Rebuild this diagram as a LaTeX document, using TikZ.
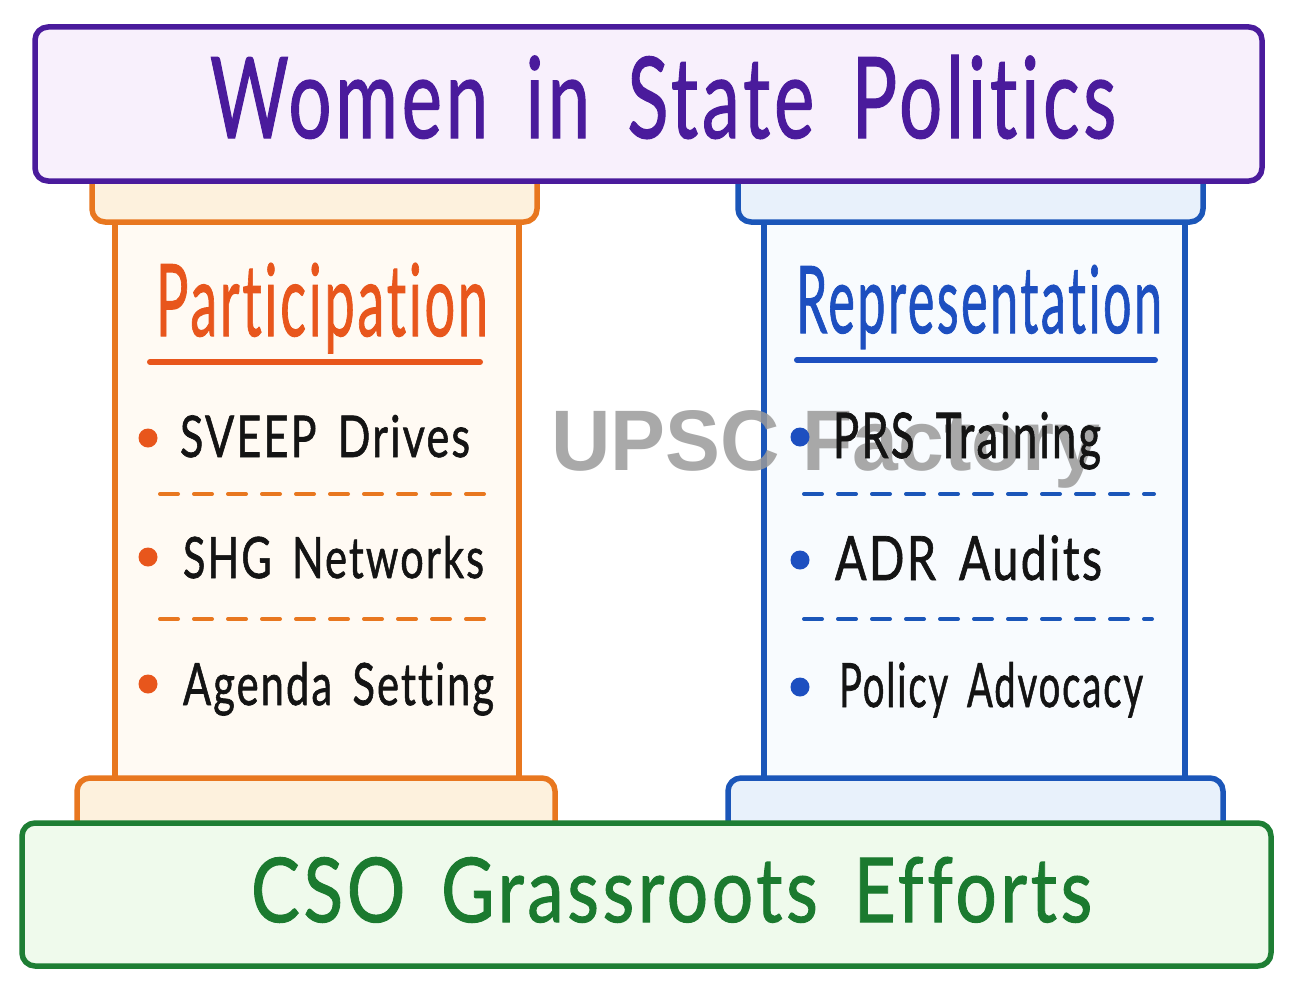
\documentclass[tikz,border=0pt]{standalone}
\usepackage{fontspec}
\usepackage{graphicx}
\setmainfont{Lato}[Ligatures=NoCommon, LetterSpace=5, WordSpace=1.6, FakeBold=1.2]
\newfontfamily\wmfont{Liberation Sans}
\definecolor{purp}{HTML}{4A1B9C}
\definecolor{purpfill}{HTML}{F8F0FC}
\definecolor{orng}{HTML}{E8771F}
\definecolor{orngtxt}{HTML}{E8561C}
\definecolor{lcap}{HTML}{FDF1DD}
\definecolor{lshaft}{HTML}{FFFAF3}
\definecolor{blu}{HTML}{1B56B9}
\definecolor{blutxt}{HTML}{1D4FC0}
\definecolor{rcap}{HTML}{E8F1FB}
\definecolor{rshaft}{HTML}{F8FBFE}
\definecolor{grn}{HTML}{1E7E34}
\definecolor{grntxt}{HTML}{1B7A2F}
\definecolor{grnfill}{HTML}{EFFAEC}
\definecolor{ink}{HTML}{141414}
\definecolor{wmgray}{HTML}{9A9A9A}
\newcommand{\mkfit}[3]{\resizebox{#1pt}{#2pt}{\fontsize{40}{40}\selectfont #3}}
\begin{document}
\begin{tikzpicture}[x=1pt,y=-1pt,
  outline/.style={line width=5.5pt, rounded corners=13pt, line join=round},
  shaftbox/.style={line width=5.5pt, line join=round},
  lbl/.style={anchor=base west, inner sep=0pt, outer sep=0pt},
  dashline/.style={line width=4pt, line cap=round, dash pattern=on 18pt off 16pt},
  uline/.style={line width=6pt, line cap=round},
  dot/.style={circle, inner sep=0pt, outer sep=0pt, minimum size=19pt}]
\useasboundingbox (0,0) rectangle (1295,990);
\fill[white] (0,0) rectangle (1295,990);
% shafts
\draw[shaftbox, draw=orng, fill=lshaft] (115,215) rectangle (519,785);
\draw[shaftbox, draw=blu, fill=rshaft] (764,215) rectangle (1185,785);
% caps
\draw[outline, draw=orng, fill=lcap] (92,160) rectangle (537,222);
\draw[outline, draw=blu, fill=rcap] (738,160) rectangle (1203,222);
% plinths
\draw[outline, draw=orng, fill=lcap] (77,778) rectangle (555,845);
\draw[outline, draw=blu, fill=rcap] (728,778) rectangle (1223,845);
% banner and base
\draw[outline, draw=purp, fill=purpfill] (35,27) rectangle (1262,181);
\draw[outline, draw=grn, fill=grnfill] (22,823) rectangle (1271,966);
% watermark
\node[lbl, text=wmgray, opacity=0.85] (wm) at (551,470) {\mkfit{549}{60}{\wmfont\bfseries UPSC Factory}};
% titles
\node[lbl, text=purp] (title) at (210,138) {\mkfit{906}{83}{Women in State Politics}};
\node[lbl, text=grntxt] (base) at (251,922) {\mkfit{841}{65}{CSO Grassroots Efforts}};
\node[lbl, text=orngtxt] (part) at (156,336) {\mkfit{332}{73}{Participation}};
\node[lbl, text=blutxt] (rep) at (796,333) {\mkfit{366}{68}{Representation}};
\draw[uline, orngtxt] (150,362) -- (480,362);
\draw[uline, blutxt] (797,360) -- (1155,360);
% left items
\node[dot, fill=orngtxt] (ld1) at (148,438) {};
\node[dot, fill=orngtxt] (ld2) at (148,557) {};
\node[dot, fill=orngtxt] (ld3) at (148,684) {};
\node[lbl, text=ink] (l1) at (180,457) {\mkfit{290}{42}{SVEEP Drives}};
\node[lbl, text=ink] (l2) at (183,578) {\mkfit{301}{42}{SHG Networks}};
\node[lbl, text=ink] (l3) at (183,705) {\mkfit{311}{43}{Agenda Setting}};
\draw[dashline, orng] (160,494) -- (490,494);
\draw[dashline, orng] (160,619) -- (490,619);
% right items
\node[dot, fill=blutxt] (rd1) at (800,437) {};
\node[dot, fill=blutxt] (rd2) at (800,560) {};
\node[dot, fill=blutxt] (rd3) at (800,687) {};
\node[lbl, text=ink] (r1) at (833,458) {\mkfit{268}{46}{PRS Training}};
\node[lbl, text=ink] (r2) at (835,580) {\mkfit{267}{45}{ADR Audits}};
\node[lbl, text=ink] (r3) at (839,707) {\mkfit{304}{45}{Policy Advocacy}};
\draw[dashline, blu] (804,494) -- (1154,494);
\draw[dashline, blu] (804,619) -- (1152,619);
\end{tikzpicture}
\end{document}
